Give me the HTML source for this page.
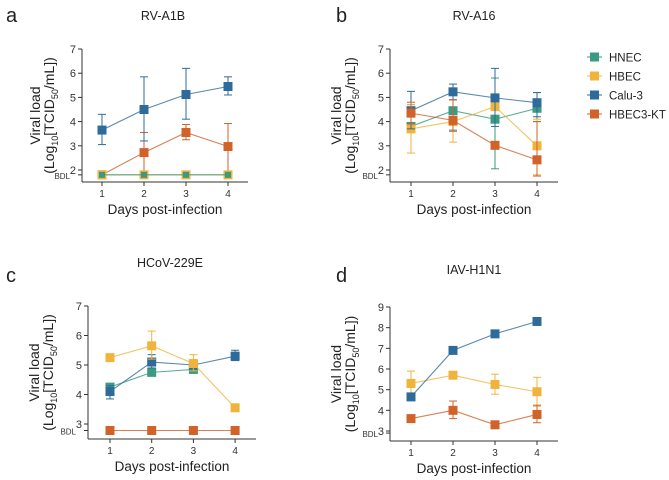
<!DOCTYPE html>
<html><head><meta charset="utf-8"><style>
html,body{margin:0;padding:0;background:#fff;}
svg{display:block;font-family:"Liberation Sans",sans-serif;}
</style></head><body>
<svg id="fig" width="669" height="480" viewBox="0 0 669 480"></svg>
<script>
const days = [1,2,3,4];
const seriesNames = ["HNEC","HBEC","Calu-3","HBEC3-KT"];
const colors = ["#3a9a82","#f0b43c","#2f6b9a","#d0622a"];
// panel a
const aHNEC=[1.8,1.8,1.8,1.8], aHBEC=[1.8,1.8,1.8,1.8], aCalu=[3.65,4.5,5.12,5.45], aKT=[1.8,2.72,3.55,2.97];
const aLo=[[null,null,null,null],[null,null,null,null],[3.05,3.2,4.1,5.1],[null,1.8,3.25,1.8]];
const aHi=[[null,null,null,null],[null,null,null,null],[4.3,5.85,6.2,5.85],[null,3.55,3.88,3.92]];
// panel b
const bHNEC=[3.8,4.45,4.1,4.55], bHBEC=[3.7,4.0,4.62,3.0], bCalu=[4.45,5.23,4.98,4.78], bKT=[4.35,4.05,3.02,2.42];
const bLo=[[3.6,3.65,2.05,4.0],[2.7,3.15,null,1.8],[3.7,4.9,3.8,4.2],[3.9,3.6,null,1.75]];
const bHi=[[4.7,4.9,5.8,5.2],[4.7,4.9,null,4.1],[5.25,5.55,6.2,5.2],[4.8,4.9,null,4.0]];
// panel c
const cHNEC=[4.25,4.75,4.85,null], cHBEC=[5.25,5.65,5.05,3.55], cCalu=[4.1,5.1,5.0,5.3], cKT=[2.78,2.78,2.78,2.78];
const cLo=[[null,null,null,null],[null,5.2,4.8,null],[3.85,4.9,null,5.15],[null,null,null,null]];
const cHi=[[null,null,null,null],[null,6.15,5.35,null],[4.3,5.35,null,5.5],[null,null,null,null]];
// panel d
const dHNEC=[null,null,null,null], dHBEC=[5.3,5.7,5.25,4.9], dCalu=[4.65,6.9,7.7,8.3], dKT=[3.6,4.0,3.3,3.8];
const dLo=[[null,null,null,null],[4.75,null,4.78,4.2],[4.55,null,null,null],[null,3.6,null,3.4]];
const dHi=[[null,null,null,null],[5.9,null,5.75,5.6],[4.75,null,null,null],[null,4.45,null,4.25]];
const yTicksAB=[2,3,4,5,6,7], yTicksC=[3,4,5,6,7], yTicksD=[3,4,5,6,7,8,9];

const NS="http://www.w3.org/2000/svg";
const svg=document.getElementById('fig');
function el(tag,attrs,parent,text){const e=document.createElementNS(NS,tag);for(const k in attrs)e.setAttribute(k,attrs[k]);if(text!==undefined)e.textContent=text;(parent||svg).appendChild(e);return e;}

const panels=[
 {id:'a',title:'RV-A1B',letterX:6,letterY:22,titleX:163,titleY:20,ax:82,ylo:48,x0:82,x1:248,yAxisY:182,dayX0:102,dayStep:42,yv0:7,yp0:49,yv1:2,yp1:170,ticks:yTicksAB,bdl:1.8,data:[aHNEC,aHBEC,aCalu,aKT],lo:aLo,hi:aHi,order:[3,2,1,0],small:true},
 {id:'b',title:'RV-A16',letterX:336,letterY:22,titleX:474,titleY:20,ax:390,ylo:55,x0:390,x1:558,yAxisY:182,dayX0:411,dayStep:42,yv0:7,yp0:49,yv1:2,yp1:170,ticks:yTicksAB,bdl:1.8,data:[bHNEC,bHBEC,bCalu,bKT],lo:bLo,hi:bHi,order:[0,1,2,3]},
 {id:'c',title:'HCoV-229E',letterX:6,letterY:282,titleX:170,titleY:267,ax:88,ylo:55,x0:88,x1:256,yAxisY:439,dayX0:110,dayStep:41.7,yv0:7,yp0:306,yv1:3,yp1:424,ticks:yTicksC,bdl:2.78,data:[cHNEC,cHBEC,cCalu,cKT],lo:cLo,hi:cHi,order:[0,2,1,3]},
 {id:'d',title:'IAV-H1N1',letterX:336,letterY:282,titleX:474,titleY:274,ax:390,ylo:55,x0:390,x1:558,yAxisY:441,dayX0:411,dayStep:42,yv0:9,yp0:307,yv1:3,yp1:431,ticks:yTicksD,bdl:2.9,data:[dHNEC,dHBEC,dCalu,dKT],lo:dLo,hi:dHi,order:[0,1,2,3]}
];

panels.forEach(p=>{
  const g=el('g',{});
  
  
  const ys=v=>p.yp0+(v-p.yv0)*(p.yp1-p.yp0)/(p.yv1-p.yv0);
  const xs=d=>p.dayX0+(d-1)*p.dayStep;
  const L=el('text',{x:p.letterX,y:p.letterY,'font-size':20,fill:'#222'},g,p.id);
  
  const T=el('text',{x:p.titleX,y:p.titleY,'font-size':12.5,fill:'#222','text-anchor':'middle'},g,p.title);
  
  const top=ys(p.ticks[p.ticks.length-1]);
  const ya=el('line',{x1:p.ax,y1:top,x2:p.ax,y2:p.yAxisY,stroke:'#333','stroke-width':1},g);
  
  const xa=el('line',{x1:p.x0,y1:p.yAxisY,x2:p.x1,y2:p.yAxisY,stroke:'#333','stroke-width':1},g);
  
  p.ticks.forEach(t=>{
    el('line',{x1:p.ax-4,y1:ys(t),x2:p.ax,y2:ys(t),stroke:'#333'},g);
    const tl=el('text',{x:p.ax-6,y:ys(t)+4,'font-size':11,fill:'#333','text-anchor':'end'},g,t);
    
  });
  el('line',{x1:p.ax-4,y1:ys(p.bdl),x2:p.ax,y2:ys(p.bdl),stroke:'#333'},g);
  const bl=el('text',{x:p.ax-12,y:ys(p.bdl)+4,'font-size':8,fill:'#333','text-anchor':'end'},g,'BDL');
  
  days.forEach(d=>{
    el('line',{x1:xs(d),y1:p.yAxisY,x2:xs(d),y2:p.yAxisY+4,stroke:'#333'},g);
    const dl=el('text',{x:xs(d),y:p.yAxisY+15,'font-size':10,fill:'#333','text-anchor':'middle'},g,d);
    
  });
  const xt=el('text',{x:(p.x0+p.x1)/2,y:p.yAxisY+32,'font-size':13.5,fill:'#222','text-anchor':'middle'},g,'Days post-infection');
  
  const yc=(p.yp0+p.yAxisY)/2;
  const yt=el('text',{transform:`translate(${p.ax-p.ylo+6},${yc}) rotate(-90)`,'font-size':14,fill:'#222','text-anchor':'middle'},g,'Viral load');
  
  const yt2=el('text',{transform:`translate(${p.ax-p.ylo+20},${yc}) rotate(-90)`,'font-size':14,fill:'#222','text-anchor':'middle'},g);
  
  el('tspan',{},yt2,'(Log');el('tspan',{'font-size':9,dy:4},yt2,'10');el('tspan',{dy:-4},yt2,'[TCID');
  el('tspan',{'font-size':9,dy:4},yt2,'50');el('tspan',{dy:-4},yt2,'/mL])');
  p.order.forEach(si=>{
    const vals=p.data[si];
    const sg=el('g',{},g);
    
    
    const c=colors[si];
    let pts=[];
    vals.forEach((v,i)=>{if(v!==null)pts.push(xs(days[i])+','+ys(v));});
    if(pts.length>1){const pl=el('polyline',{points:pts.join(' '),fill:'none',stroke:c,'stroke-width':1.1,'stroke-opacity':0.8},sg);}
    vals.forEach((v,i)=>{
      if(v===null)return;
      const x=xs(days[i]);
      const lo=p.lo[si][i],hi=p.hi[si][i];
      if(lo!==null){el('line',{x1:x,y1:ys(v),x2:x,y2:ys(lo),stroke:c,'stroke-width':1},sg);el('line',{x1:x-4,y1:ys(lo),x2:x+4,y2:ys(lo),stroke:c,'stroke-width':1},sg);}
      if(hi!==null){el('line',{x1:x,y1:ys(v),x2:x,y2:ys(hi),stroke:c,'stroke-width':1},sg);el('line',{x1:x-4,y1:ys(hi),x2:x+4,y2:ys(hi),stroke:c,'stroke-width':1},sg);}
    });
    const sz=(p.small&&si===0)?6:9;
    vals.forEach((v,i)=>{
      if(v===null)return;
      const r=el('rect',{x:xs(days[i])-sz/2,y:ys(v)-sz/2,width:sz,height:sz,fill:c},sg);
      
      
    });
  });
});
const lg=el('g',{});


seriesNames.forEach((n,i)=>{
  const y=57+i*19;
  const e=el('g',{},lg);
  
  
  el('line',{x1:587,y1:y,x2:602,y2:y,stroke:colors[i],'stroke-width':1},e);
  el('rect',{x:590,y:y-4.5,width:9,height:9,fill:colors[i]},e);
  el('text',{x:609,y:y+4.5,'font-size':11.5,fill:'#222'},e,n);
});
</script>
</body></html>
